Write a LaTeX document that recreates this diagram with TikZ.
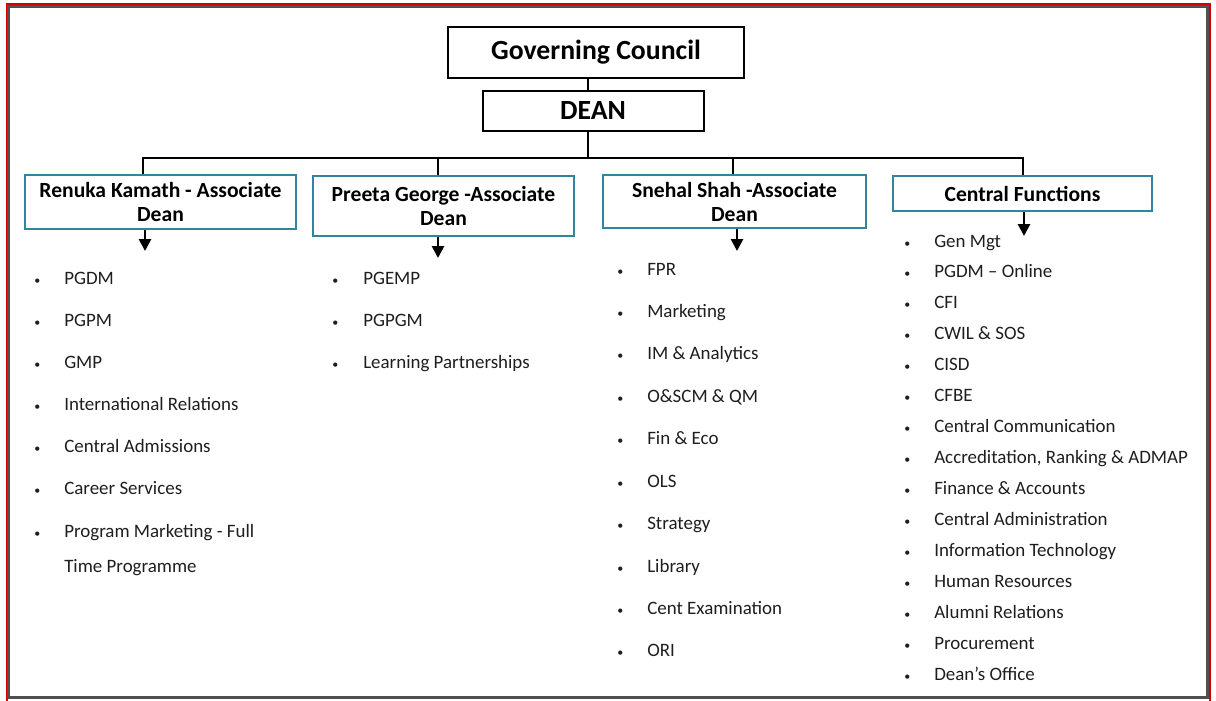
\documentclass[tikz,border=0pt]{standalone}
\usepackage{fontspec}
\setmainfont{Carlito}
\usetikzlibrary{arrows.meta}
\definecolor{boxteal}{HTML}{31859C}
\definecolor{frred}{HTML}{D40000}
\definecolor{frgray}{HTML}{505050}
\definecolor{txt}{HTML}{1E1E1E}
\begin{document}
\begin{tikzpicture}[x=0.75pt,y=-0.75pt,
  topbox/.style={draw=black, line width=1.5pt, inner sep=0pt, align=center,
    font=\fontsize{20.8}{24}\selectfont\bfseries, text=black},
  assocbox/.style={draw=boxteal, line width=1.3pt, inner sep=0pt, align=center,
    font=\fontsize{16.2}{18}\selectfont\bfseries, text=black},
  conn/.style={draw=black, line width=2.1pt},
  arr/.style={draw=black, line width=2pt, -{Triangle[width=9pt,length=9pt]}},
  item/.style={anchor=base west, inner sep=0pt, text=txt, font=\fontsize{14.2}{16}\selectfont},
  bul/.style={anchor=base west, inner sep=0pt, text=txt, font=\fontsize{9}{11}\selectfont}
]
\useasboundingbox (0,0) rectangle (1216,700);
\fill[white] (0,0) rectangle (1216,700);
% frame
\draw[frred, line width=1.2pt] (6.7,3.8) rectangle (1210.2,702);
\draw[frgray, line width=2.2pt] (8.8,6.3) rectangle (1207.3,697.2);

% top boxes
\node[topbox, minimum width=296*0.75pt, minimum height=51*0.75pt] (gc) at (596,52.5) {Governing Council};
\node[topbox, minimum width=221*0.75pt, minimum height=40*0.75pt] (dean) at (593,111) {DEAN};

% associate boxes
\node[assocbox, minimum width=271*0.75pt, minimum height=54*0.75pt] (ren) at (160.5,202) {Renuka Kamath - Associate\\Dean};
\node[assocbox, minimum width=261*0.75pt, minimum height=60*0.75pt] (pre) at (443.5,206) {Preeta George -Associate\\Dean};
\node[assocbox, minimum width=263*0.75pt, minimum height=53*0.75pt] (sne) at (734.5,201.5) {Snehal Shah -Associate\\Dean};
\node[assocbox, minimum width=259*0.75pt, minimum height=35*0.75pt] (cen) at (1022.5,193.5) {Central Functions};

% connectors
\coordinate (c1) at (588,158);
\coordinate (jR) at (143,158);
\coordinate (jP) at (438,158);
\coordinate (jS) at (733,158);
\coordinate (jC) at (1023,158);
\draw[conn] (c1 |- gc.south) -- (c1 |- dean.north);
\draw[conn] (c1 |- dean.south) -- (c1);
\draw[conn] (jR |- ren.north) -- (jR) -- (jC) -- (jC |- cen.north);
\draw[conn] (jP) -- (jP |- pre.north);
\draw[conn] (jS) -- (jS |- sne.north);

% arrows
\coordinate (aR) at (145,251);
\coordinate (aP) at (438,258);
\coordinate (aS) at (737,251);
\coordinate (aC) at (1024,236);
\draw[arr] (aR |- ren.south) -- (aR);
\draw[arr] (aP |- pre.south) -- (aP);
\draw[arr] (aS |- sne.south) -- (aS);
\draw[arr] (aC |- cen.south) -- (aC);

% Renuka list
\foreach \t [count=\i from 0] in {PGDM,PGPM,GMP,International Relations,Central Admissions,Career Services,Program Marketing - Full}{
  \node[bul] (rb\i) at (34,284+42.17*\i) {•};
  \node[item] (rt\i) at (64,284+42.17*\i) {\t};
}
\node[item] (rt7) at (64,572) {Time Programme};

% Preeta list
\foreach \t [count=\i from 0] in {PGEMP,PGPGM,Learning Partnerships}{
  \node[bul] (pb\i) at (332,284+42.17*\i) {•};
  \node[item] (pt\i) at (363,284+42.17*\i) {\t};
}

% Snehal list
\foreach \t [count=\i from 0] in {FPR,Marketing,IM \& Analytics,O\&SCM \& QM,Fin \& Eco,OLS,Strategy,Library,Cent Examination,ORI}{
  \node[bul] (sb\i) at (617,275+42.44*\i) {•};
  \node[item] (st\i) at (647,275+42.44*\i) {\t};
}

% Central list
\foreach \t [count=\i from 0] in {Gen Mgt,PGDM – Online,CFI,CWIL \& SOS,CISD,CFBE,Central Communication,{Accreditation, Ranking \& ADMAP},Finance \& Accounts,Central Administration,Information Technology,Human Resources,Alumni Relations,Procurement,Dean’s Office}{
  \node[bul] (cb\i) at (904,247+30.93*\i) {•};
  \node[item] (ct\i) at (934,247+30.93*\i) {\t};
}
\end{tikzpicture}
\end{document}
